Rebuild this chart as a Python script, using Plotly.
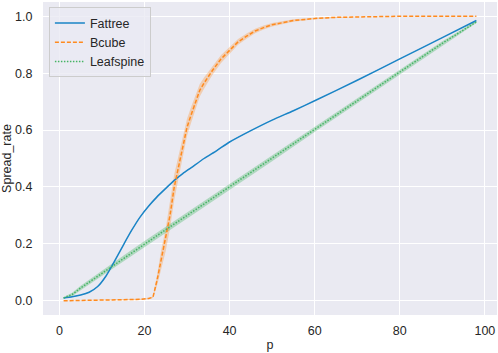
import plotly.graph_objects as go

# ---- data ----
fattree_p = [1, 3, 5, 7, 9, 11, 13, 15, 17, 19, 21, 23, 25, 27, 29, 31, 34, 37, 40, 45, 50, 55, 60, 70, 80, 90, 98]
fattree_v = [0.010, 0.014, 0.020, 0.030, 0.050, 0.088, 0.140, 0.195, 0.248, 0.295, 0.333, 0.366, 0.395, 0.423,
             0.447, 0.468, 0.500, 0.528, 0.558, 0.598, 0.635, 0.668, 0.703, 0.775, 0.850, 0.925, 0.985]
fattree_ci = [0.001] * len(fattree_p)

bcube_p = [1, 5, 10, 15, 19, 21, 22, 23, 24, 25, 26, 27, 28, 29, 30, 31, 32, 33, 34, 36, 38, 40, 42, 44, 46, 48,
           50, 55, 60, 65, 70, 80, 98]
bcube_v = [0.000, 0.001, 0.002, 0.003, 0.005, 0.008, 0.013, 0.075, 0.150, 0.215, 0.300, 0.400, 0.470, 0.545,
           0.610, 0.655, 0.700, 0.740, 0.765, 0.810, 0.850, 0.880, 0.910, 0.930, 0.948, 0.960, 0.970, 0.985,
           0.992, 0.996, 0.998, 1.000, 1.000]
bcube_ci = [0.001, 0.001, 0.001, 0.002, 0.002, 0.002, 0.003, 0.020, 0.035, 0.040, 0.045, 0.045, 0.040, 0.035,
            0.030, 0.028, 0.025, 0.022, 0.020, 0.016, 0.014, 0.012, 0.010, 0.009, 0.008, 0.007, 0.006, 0.004,
            0.003, 0.002, 0.001, 0.001, 0.001]

leaf_p = [1, 3, 5, 10, 15, 20, 25, 30, 40, 50, 60, 70, 80, 90, 98]
leaf_v = [0.010, 0.022, 0.045, 0.097, 0.148, 0.200, 0.250, 0.300, 0.400, 0.500, 0.602, 0.703, 0.804, 0.905, 0.980]
leaf_ci = [0.003, 0.006, 0.008, 0.010, 0.010, 0.010, 0.010, 0.010, 0.010, 0.010, 0.009, 0.009, 0.008, 0.007, 0.004]

x_ticks = [0, 20, 40, 60, 80, 100]
y_ticks = [0.0, 0.2, 0.4, 0.6, 0.8, 1.0]

series = [
    ("Fattree", fattree_p, fattree_v, fattree_ci, "#1a84c6", "solid", 0.25, "spline"),
    ("Bcube", bcube_p, bcube_v, bcube_ci, "#ff8a1e", "4px,2px", 0.3, "linear"),
    ("Leafspine", leaf_p, leaf_v, leaf_ci, "#46b464", "1.5px,1.5px", 0.35, "linear"),
]


def rgba(hex_color, a):
    h = hex_color.lstrip("#")
    r, g, b = int(h[0:2], 16), int(h[2:4], 16), int(h[4:6], 16)
    return f"rgba({r},{g},{b},{a})"


fig = go.Figure()
for name, p, v, ci, col, dash, alpha, shape in series:
    lo = [a - c for a, c in zip(v, ci)]
    hi = [a + c for a, c in zip(v, ci)]
    fig.add_trace(go.Scatter(x=p, y=lo, mode="lines", line=dict(width=0, shape=shape),
                             showlegend=False, hoverinfo="skip"))
    fig.add_trace(go.Scatter(x=p, y=hi, mode="lines", line=dict(width=0, shape=shape), fill="tonexty",
                             fillcolor=rgba(col, alpha), showlegend=False, hoverinfo="skip"))

for name, p, v, ci, col, dash, alpha, shape in series:
    fig.add_trace(go.Scatter(x=p, y=v, mode="lines", name=name,
                             line=dict(color=col, width=1.5, dash=dash, shape=shape, smoothing=0.6)))

font = dict(family="Liberation Sans, Arial, sans-serif", size=12.5, color="#262626")

fig.update_layout(
    width=498, height=353,
    margin=dict(l=43, r=1, t=2, b=38),
    paper_bgcolor="white",
    plot_bgcolor="#eaeaf2",
    font=font,
    showlegend=True,
    legend=dict(x=0.013, y=0.983, xanchor="left", yanchor="top", traceorder="normal",
                bgcolor="rgba(234,234,242,0.8)", bordercolor="#cccccc", borderwidth=1,
                font=font, tracegroupgap=0),
    xaxis=dict(range=[-3.85, 102.85], tickvals=x_ticks, ticktext=[str(t) for t in x_ticks],
               showgrid=True, gridcolor="white", gridwidth=1, zeroline=False, showline=False,
               ticks="outside", ticklen=4, tickcolor="rgba(0,0,0,0)", automargin=False,
               title=dict(text="p", standoff=3, font=font)),
    yaxis=dict(range=[-0.05, 1.05], tickvals=y_ticks, ticktext=[f"{t:.1f}" for t in y_ticks],
               showgrid=True, gridcolor="white", gridwidth=1, zeroline=False, showline=False,
               ticks="outside", ticklen=7, tickcolor="rgba(0,0,0,0)", automargin=False,
               title=dict(text="Spread_rate", standoff=4, font=font)),
)

fig.write_html("out.html", config={"displayModeBar": False},
               post_script="document.body.style.margin='0';document.body.style.padding='0';"
                           "document.documentElement.style.overflow='hidden';")
